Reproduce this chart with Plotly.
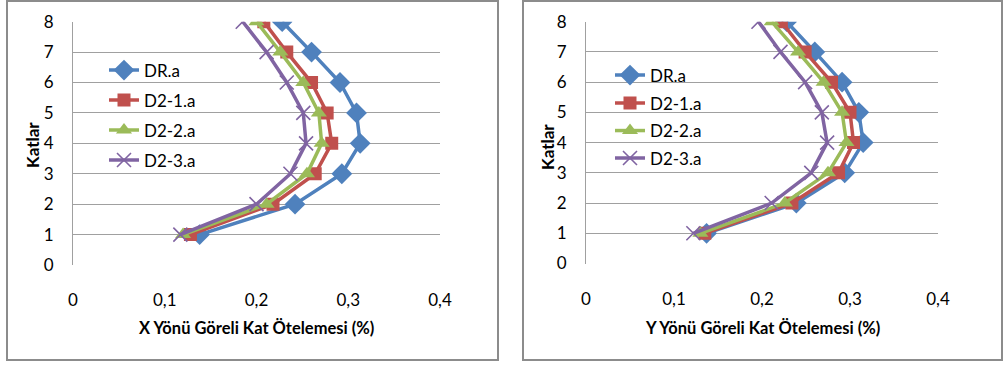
import plotly.graph_objects as go

# Floor numbers (Katlar)
floors = [1, 2, 3, 4, 5, 6, 7, 8]

# X-direction relative storey drift (%)
x_dr_a = [0.138, 0.242, 0.293, 0.313, 0.309, 0.291, 0.260, 0.228]
x_d2_1a = [0.128, 0.218, 0.264, 0.282, 0.277, 0.260, 0.233, 0.208]
x_d2_2a = [0.120, 0.211, 0.255, 0.271, 0.268, 0.251, 0.226, 0.200]
x_d2_3a = [0.117, 0.200, 0.237, 0.254, 0.251, 0.233, 0.211, 0.185]

# Y-direction relative storey drift (%)
y_dr_a = [0.137, 0.239, 0.294, 0.315, 0.310, 0.291, 0.260, 0.228]
y_d2_1a = [0.135, 0.234, 0.287, 0.304, 0.300, 0.279, 0.249, 0.222]
y_d2_2a = [0.130, 0.226, 0.275, 0.296, 0.291, 0.270, 0.241, 0.211]
y_d2_3a = [0.122, 0.211, 0.256, 0.274, 0.268, 0.249, 0.221, 0.196]

series_names = ["DR.a", "D2-1.a", "D2-2.a", "D2-3.a"]
x_tick_vals = [0, 0.1, 0.2, 0.3, 0.4]
x_tick_text = ["0", "0,1", "0,2", "0,3", "0,4"]
y_tick_vals = [0, 1, 2, 3, 4, 5, 6, 7, 8]

colors = ["#4F81BD", "#C0504D", "#9BBB59", "#8064A2"]
symbols = ["diamond", "square", "triangle-up", "x-thin"]
msizes = [16, 13, 14, 14]

FONT = "Lato, Open Sans, sans-serif"
W, H = 1004, 367

# one legend per entry so the rows can be spaced like the original
left_legends = ["legend", "legend3", "legend4", "legend5"]
right_legends = ["legend2", "legend6", "legend7", "legend8"]
left_rows = [69.5, 99.5, 129.5, 159.5]     # row centres (px from top)
right_rows = [74.5, 102.5, 130, 157.5]
left_leg_x = 104
right_leg_x = 610

fig = go.Figure()


def add_series(values_list, xa, ya, legend_ids):
    for name, vals, col, sym, ms, lg in zip(series_names, values_list, colors,
                                           symbols, msizes, legend_ids):
        marker = dict(symbol=sym, size=ms, color=col)
        if sym == "x-thin":
            marker["line"] = dict(color=col, width=1.6)
        else:
            marker["line"] = dict(width=0)
        fig.add_trace(go.Scatter(
            x=vals, y=floors, mode="lines+markers", name=name,
            line=dict(color=col, width=3.5), marker=marker,
            xaxis=xa, yaxis=ya, legend=lg, showlegend=True,
        ))


add_series([x_dr_a, x_d2_1a, x_d2_2a, x_d2_3a], "x", "y", left_legends)
add_series([y_dr_a, y_d2_1a, y_d2_2a, y_d2_3a], "x2", "y2", right_legends)

# plot-area boxes in pixels: (left, right, top, bottom)
left_box = (73, 440, 21.7, 265)
right_box = (586, 938, 21.7, 263.5)


def xdom(b):
    return [b[0] / W, b[1] / W]


def ydom(b):
    return [1 - b[3] / H, 1 - b[2] / H]


grid = "#A0A0A0"
xaxis_common = dict(
    range=[0, 0.4], tickvals=x_tick_vals, ticktext=x_tick_text,
    showgrid=False, zeroline=False, showline=False, automargin=False,
    ticks="outside", ticklen=20, tickcolor="rgba(0,0,0,0)",
    tickfont=dict(family=FONT, size=17, color="#000000"),
)
yaxis_common = dict(
    range=[0, 8], tickvals=y_tick_vals,
    showgrid=True, gridcolor=grid, gridwidth=1, zeroline=False,
    showline=True, linecolor=grid, linewidth=1, automargin=False,
    ticks="outside", ticklen=15, tickcolor="rgba(0,0,0,0)",
    tickfont=dict(family=FONT, size=17, color="#000000"),
)


def legend_cfg(x_px, row_px):
    return dict(
        bgcolor="rgba(0,0,0,0)", borderwidth=0, visible=True,
        font=dict(family=FONT, size=17, color="#000000"),
        xanchor="left", yanchor="top", itemwidth=30,
        x=x_px / W, y=1 - (row_px - 17) / H,
    )


legends = {}
for lg, r in zip(left_legends, left_rows):
    legends[lg] = legend_cfg(left_leg_x, r)
for lg, r in zip(right_legends, right_rows):
    legends[lg] = legend_cfg(right_leg_x, r)


def px_rect(x0, x1, y0, y1, **kw):
    return dict(type="rect", xref="paper", yref="paper",
                x0=x0 / W, x1=x1 / W, y0=1 - y1 / H, y1=1 - y0 / H, **kw)


fig.update_layout(
    width=W, height=H, showlegend=True,
    margin=dict(l=0, r=0, t=0, b=0, autoexpand=False),
    paper_bgcolor="#FFFFFF", plot_bgcolor="#FFFFFF",
    xaxis=dict(domain=xdom(left_box), anchor="y", **xaxis_common),
    yaxis=dict(domain=ydom(left_box), anchor="x", **yaxis_common),
    xaxis2=dict(domain=xdom(right_box), anchor="y2", **xaxis_common),
    yaxis2=dict(domain=ydom(right_box), anchor="x2", **yaxis_common),
    shapes=[
        px_rect(7, 498, 1, 360, line=dict(color="#8C8C8C", width=2), layer="below"),
        px_rect(523, 1002, 1, 360, line=dict(color="#8C8C8C", width=2), layer="below"),
        # legend backgrounds
        px_rect(97, 203, 56, 185, fillcolor="#FFFFFF", line=dict(width=0), layer="between"),
        px_rect(608, 703, 62, 168, fillcolor="#FFFFFF", line=dict(width=0), layer="between"),
    ],
    annotations=[
        dict(text="<b>Katlar</b>", textangle=-90, xref="paper", yref="paper",
             x=33 / W, y=1 - 145 / H, xanchor="center", yanchor="middle",
             showarrow=False, font=dict(family=FONT, size=17, color="#000000")),
        dict(text="<b>Katlar</b>", textangle=-90, xref="paper", yref="paper",
             x=547 / W, y=1 - 147 / H, xanchor="center", yanchor="middle",
             showarrow=False, font=dict(family=FONT, size=17, color="#000000")),
        dict(text="<b>X Yönü Göreli Kat Ötelemesi (%)</b>", xref="paper", yref="paper",
             x=256 / W, y=1 - 328 / H, xanchor="center", yanchor="middle",
             showarrow=False, font=dict(family=FONT, size=16.5, color="#000000")),
        dict(text="<b>Y Yönü Göreli Kat Ötelemesi (%)</b>", xref="paper", yref="paper",
             x=762 / W, y=1 - 328 / H, xanchor="center", yanchor="middle",
             showarrow=False, font=dict(family=FONT, size=16.5, color="#000000")),
    ],
    **legends,
)

fig.write_html("out.html")
